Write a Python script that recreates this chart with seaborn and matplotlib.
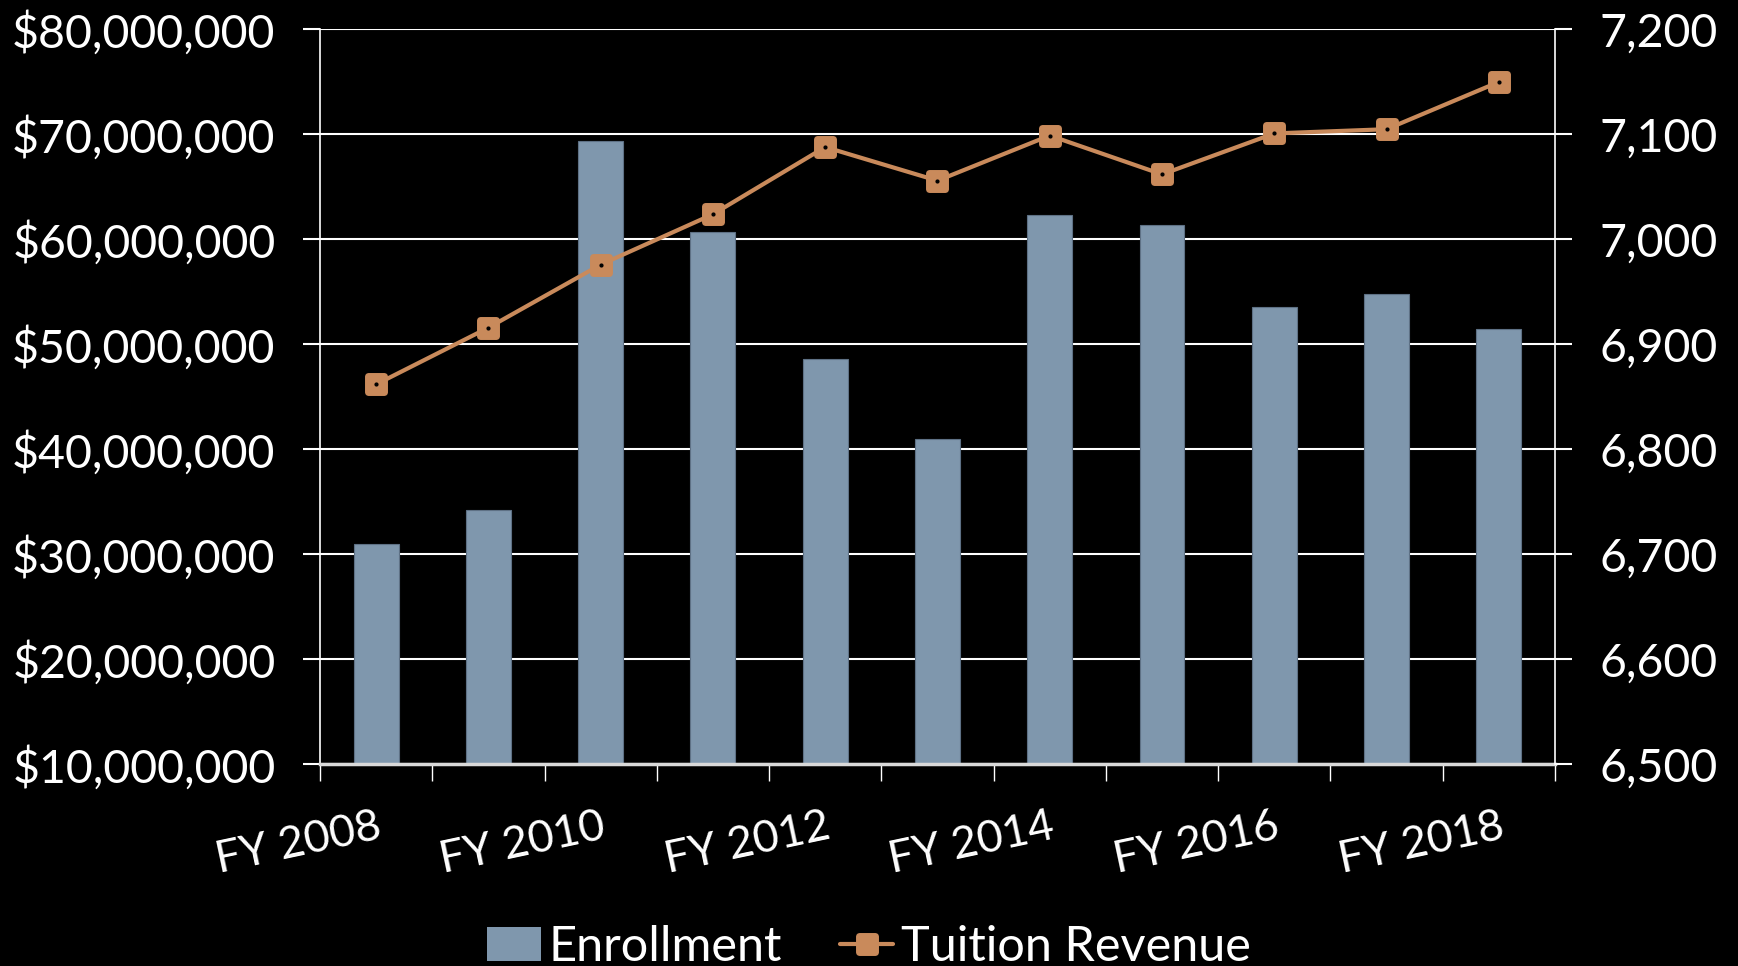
import numpy as np
import pandas as pd
import matplotlib
matplotlib.use("Agg")
import matplotlib.pyplot as plt
import seaborn as sns
from matplotlib.markers import MarkerStyle
from matplotlib.ticker import FixedLocator, NullFormatter, FuncFormatter
from matplotlib.lines import Line2D
from matplotlib.patches import Patch

# data
years = ["FY 2008", "FY 2009", "FY 2010", "FY 2011", "FY 2012", "FY 2013",
         "FY 2014", "FY 2015", "FY 2016", "FY 2017", "FY 2018"]
enrollment = [31.0e6, 34.2e6, 69.4e6, 60.7e6, 48.6e6, 41.0e6,
              62.3e6, 61.4e6, 53.6e6, 54.8e6, 51.5e6]
tuition = [6862, 6916, 6976, 7024, 7088, 7056, 7099, 7062, 7101, 7105, 7150]
left_ticks = [10e6, 20e6, 30e6, 40e6, 50e6, 60e6, 70e6, 80e6]
right_ticks = [6500, 6600, 6700, 6800, 6900, 7000, 7100, 7200]

bar_color = "#7F97AD"
line_color = "#C98A5B"

sns.set_theme(style="dark")
plt.rcParams["font.family"] = ["Lato", "DejaVu Sans"]

fig = plt.figure(figsize=(17.38, 9.66), dpi=100, facecolor="black")
ax = fig.add_axes([0.1841, 0.2086, 0.7106, 0.7609])
ax.set_facecolor("black")

df = pd.DataFrame({"year": years, "enrollment": enrollment, "tuition": tuition})
sns.barplot(data=df, x="year", y="enrollment", color=bar_color, saturation=1,
            width=0.4, edgecolor="#5E7185", linewidth=0.8, ax=ax, zorder=2)

ax.set_xlim(-0.5, len(years) - 0.5)
ax.set_ylim(left_ticks[0], left_ticks[-1])
ax.yaxis.set_major_locator(FixedLocator(left_ticks))
ax.yaxis.set_major_formatter(FuncFormatter(lambda v, p: "${:,.0f}".format(v)))
ax.grid(axis="y", color="white", linewidth=1.5, zorder=0)
ax.grid(axis="x", visible=False)
ax.set_axisbelow(True)

# ticks between categories, labels on every other category
ax.xaxis.set_major_locator(FixedLocator(np.arange(-0.5, len(years), 1)))
ax.xaxis.set_major_formatter(NullFormatter())
ax.set_xticks(np.arange(0, len(years), 2), labels=years[::2], minor=True)
ax.tick_params(axis="x", which="major", bottom=True, length=12, width=1, color="white")
ax.tick_params(axis="x", which="minor", bottom=True, length=0, pad=30,
               labelsize=32, labelcolor="white")
for lbl in ax.get_xticklabels(minor=True):
    lbl.set_rotation(12)
    lbl.set_ha("right")
    lbl.set_va("top")
    lbl.set_rotation_mode("anchor")
ax.tick_params(axis="y", left=True, length=12, width=1.5, color="white", pad=20,
               labelsize=33.5, labelcolor="white")
ax.set_xlabel("")
ax.set_ylabel("")

for side in ["top", "right"]:
    ax.spines[side].set_visible(False)
ax.spines["left"].set_color("white")
ax.spines["left"].set_linewidth(1.2)
ax.spines["bottom"].set_color("#D9D9D9")
ax.spines["bottom"].set_linewidth(2.5)

ax2 = ax.twinx()
ax2.set_facecolor("none")
mk = MarkerStyle("s", joinstyle="round")
sns.lineplot(x=np.arange(len(years)), y=tuition, ax=ax2, color=line_color,
             linewidth=3, marker=mk, markersize=11, markeredgewidth=5,
             markeredgecolor=line_color, markerfacecolor=line_color)
ax2.plot(np.arange(len(years)), tuition, linestyle="none", marker="o",
         markersize=2, color="black")
ax2.set_ylim(right_ticks[0], right_ticks[-1])
ax2.yaxis.set_major_locator(FixedLocator(right_ticks))
ax2.yaxis.set_major_formatter(FuncFormatter(lambda v, p: "{:,.0f}".format(v)))
ax2.tick_params(axis="y", right=True, length=12, width=1.5, color="white", pad=20,
                labelsize=33.5, labelcolor="white")
ax2.grid(False)
for side in ["top", "left", "bottom"]:
    ax2.spines[side].set_visible(False)
ax2.spines["right"].set_color("white")
ax2.spines["right"].set_linewidth(1.2)
ax2.set_ylabel("")

handles = [Patch(facecolor=bar_color, edgecolor="none"),
           Line2D([], [], color=line_color, linewidth=3, marker=mk, markersize=11,
                  markeredgewidth=5, markeredgecolor=line_color)]
fig.legend(handles, ["Enrollment", "Tuition Revenue"], loc="center",
           bbox_to_anchor=(0.5, 0.02), ncol=2, frameon=False, fontsize=35,
           labelcolor="white", handlelength=1.1, handletextpad=0.15,
           columnspacing=1.2)

fig.savefig("out.png", dpi=100, facecolor="black")
